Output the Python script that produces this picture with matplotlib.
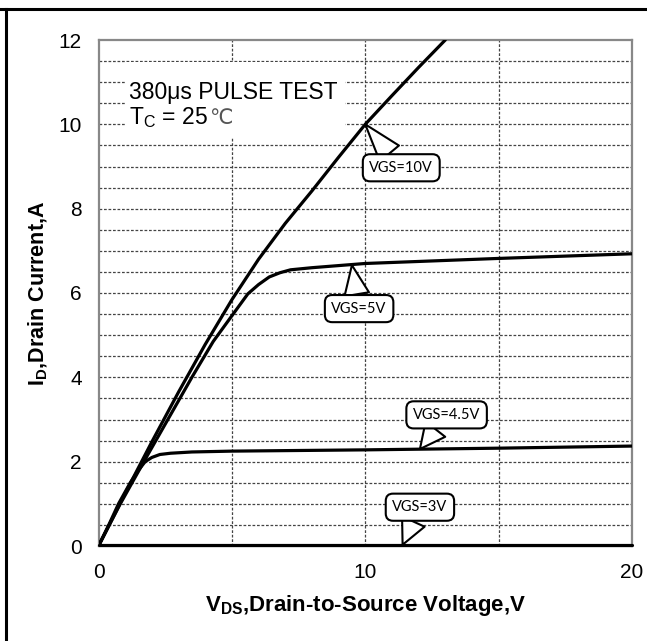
import matplotlib
matplotlib.use("Agg")
import matplotlib.pyplot as plt
from matplotlib.lines import Line2D
from matplotlib.patches import Rectangle

plt.rcParams['font.family'] = ['Liberation Sans', 'DejaVu Sans']
plt.rcParams['mathtext.fontset'] = 'custom'
plt.rcParams['mathtext.rm'] = 'Liberation Sans'
plt.rcParams['mathtext.it'] = 'Liberation Sans'
plt.rcParams['mathtext.bf'] = 'Liberation Sans:bold'

# ---- data ----
vds_10 = [0, 1, 2, 3, 4, 5, 6, 7, 8, 9, 10, 11, 12, 13]
id_10 = [0, 1.25, 2.47, 3.65, 4.78, 5.84, 6.8, 7.65, 8.42, 9.22, 10.0, 10.68, 11.35, 12.0]

vds_5 = [0, 0.8, 1.7, 2.6, 3.5, 4.3, 5.0, 5.6, 6.0, 6.4, 6.8, 7.2, 8.0, 9.4, 10, 15, 20]
id_5 = [0, 0.98, 2.0, 3.0, 4.0, 4.85, 5.46, 5.98, 6.2, 6.38, 6.48, 6.55, 6.6, 6.67, 6.7, 6.82, 6.93]

vds_45 = [0, 0.4, 0.75, 1.19, 1.5, 1.75, 2.0, 2.3, 2.7, 3.5, 5, 10, 15, 20]
id_45 = [0, 0.52, 1.0, 1.5, 1.8, 2.0, 2.1, 2.17, 2.2, 2.23, 2.25, 2.28, 2.32, 2.37]

vds_3 = [0, 5, 10, 15, 20]
id_3 = [0.02, 0.02, 0.02, 0.02, 0.02]

x_ticks = [0, 10, 20]
y_ticks = [0, 2, 4, 6, 8, 10, 12]
x_grid = [5, 10, 15]
y_grid = [0.5 * k for k in range(1, 24)]

labels = ["VGS=10V", "VGS=5V", "VGS=4.5V", "VGS=3V"]
label_tips = [(10.0, 10.0), (9.5, 6.66), (12.05, 2.3), (11.4, 0.03)]
label_boxes = [(11.35, 8.97), (9.77, 5.63), (13.05, 3.11), (12.05, 0.92)]

# ---- figure ----
fig = plt.figure(figsize=(6.47, 6.41), dpi=100)
ax = fig.add_axes([98.5 / 647, 1 - 546 / 641, (632 - 98.5) / 647, (546 - 40) / 641])

ax.set_xlim(0, 20)
ax.set_ylim(0, 12)
ax.set_axisbelow(True)

for xv in x_grid:
    ax.axvline(xv, color='#444444', lw=0.9, ls=(0, (2.2, 1.4)), zorder=0.5)
for yv in y_grid:
    ax.axhline(yv, color='#444444', lw=0.9, ls=(0, (2.2, 1.4)), zorder=0.5)

curve_kw = dict(color='black', lw=2.3, solid_capstyle='round', solid_joinstyle='round', zorder=3)
ax.plot(vds_10, id_10, **curve_kw)
ax.plot(vds_5, id_5, **curve_kw)
ax.plot(vds_45, id_45, **curve_kw)
ax.plot(vds_3, id_3, clip_on=False, **curve_kw)

ax.set_xticks(x_ticks)
ax.set_yticks(y_ticks)
ax.tick_params(length=0, labelsize=15, pad=12)
ax.tick_params(axis='y', pad=12)

for s in ax.spines.values():
    s.set_color('#888888')
    s.set_linewidth(1.6)

ax.set_xlabel("V$_{\\mathbf{DS}}$,Drain-to-Source Voltage,V", fontsize=16,
              fontweight='bold', labelpad=8)
ax.set_ylabel("I$_{\\mathbf{D}}$,Drain Current,A", fontsize=15.5,
              fontweight='bold', labelpad=6)

# white note box
ax.add_patch(Rectangle((1.0, 9.67), 8.25, 1.8, fc='white', ec='none', zorder=1))
ax.text(1.15, 10.59, "380\u03bcs PULSE TEST", fontsize=16.5, va='baseline', ha='left', zorder=2)
t_tc = ax.text(1.15, 10.0, "T$_\\mathregular{C}$ = 25", fontsize=16.5, va='baseline', ha='left', zorder=2)

for lab, tip, box in zip(labels, label_tips, label_boxes):
    ax.annotate(lab, xy=tip, xytext=box, ha='center', va='center',
                fontsize=10.5, family=['Lato', 'DejaVu Sans'], zorder=4,
                bbox=dict(boxstyle='round,pad=0.45,rounding_size=0.5', fc='white', ec='black', lw=1.5),
                arrowprops=dict(arrowstyle='wedge,tail_width=1.7', fc='white', ec='black', lw=1.5,
                                shrinkA=0, shrinkB=0))

# outer frame lines (top and left)
fig.add_artist(Line2D([0, 1], [1 - 8.5 / 641, 1 - 8.5 / 641], color='black', lw=2.2, transform=fig.transFigure))
fig.add_artist(Line2D([5.5 / 647, 5.5 / 647], [0, 1 - 8.5 / 641], color='black', lw=2.2, transform=fig.transFigure))

# degree-Celsius sign placed right after the "T_C = 25" text
fig.canvas.draw()
ext = t_tc.get_window_extent(renderer=fig.canvas.get_renderer())
x_end = ax.transData.inverted().transform((ext.x1 + 1, 0))[0]
ax.text(x_end, 10.0, "\u2103", fontsize=15, va='baseline', ha='left', color='#555555',
        family=['DejaVu Sans', 'Noto Sans CJK SC'], zorder=2)

fig.savefig("out.png", dpi=100)
